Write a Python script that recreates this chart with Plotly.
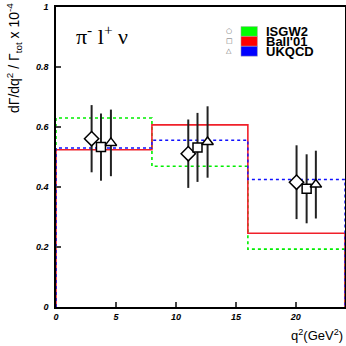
import plotly.graph_objects as go

# bin edges (q^2 in GeV^2) and model predictions per bin
bin_edges = [0, 8, 16, 24.1]
isgw2_hist = [0.630, 0.469, 0.193]
ball01_hist = [0.524, 0.607, 0.246]
ukqcd_hist = [0.530, 0.556, 0.425]

# measured points extracted with each model
isgw2_q2 = [2.97, 11.03, 20.06]
isgw2_val = [0.561, 0.511, 0.416]
isgw2_err = [0.112, 0.114, 0.123]

ball01_q2 = [3.75, 11.80, 20.90]
ball01_val = [0.533, 0.532, 0.394]
ball01_err = [0.112, 0.115, 0.115]

ukqcd_q2 = [4.58, 12.64, 21.67]
ukqcd_val = [0.547, 0.550, 0.408]
ukqcd_err = [0.111, 0.119, 0.113]

x_ticks = [0, 5, 10, 15, 20]
y_ticks = [0, 0.2, 0.4, 0.6, 0.8, 1]


def step_xy(edges, vals):
    xs = [edges[0]] + list(edges)
    ys = [0] + list(vals) + [vals[-1]]
    xs = xs + [edges[-1]]
    ys = ys + [0]
    return xs, ys


fig = go.Figure()

# model histograms
for vals, color, dash, w in [
    (isgw2_hist, "#00ee00", "dot", 1.6),
    (ball01_hist, "#f0202a", "solid", 1.6),
    (ukqcd_hist, "#1010ff", "dot", 1.4),
]:
    xs, ys = step_xy(bin_edges, vals)
    fig.add_trace(
        go.Scatter(
            x=xs, y=ys, mode="lines", line=dict(color=color, dash=dash, width=w, shape="hv"),
            showlegend=False, hoverinfo="skip",
        )
    )

# data points
for q2, val, err, sym, size in [
    (isgw2_q2, isgw2_val, isgw2_err, "diamond", 11),
    (ball01_q2, ball01_val, ball01_err, "square", 9),
    (ukqcd_q2, ukqcd_val, ukqcd_err, "triangle-up", 10),
]:
    fig.add_trace(
        go.Scatter(
            x=q2, y=val, mode="markers",
            marker=dict(symbol=sym, size=size, color="white", line=dict(color="black", width=1.5)),
            error_y=dict(type="data", array=err, color="#222222", thickness=2, width=0),
            showlegend=False,
        )
    )

tickfont = dict(family="Liberation Sans", size=9, color="black", style="italic", weight="bold")

fig.update_xaxes(
    range=[bin_edges[0], bin_edges[-1]], tickvals=x_ticks, ticks="inside", ticklen=5,
    tickwidth=1.5, showline=True, linecolor="black", linewidth=1.5, mirror=True,
    showgrid=False, zeroline=False, tickfont=tickfont, automargin=False,
)
fig.update_yaxes(
    range=[0, 1], tickvals=y_ticks, ticktext=["0", "0.2", "0.4", "0.6", "0.8", "1"],
    ticks="inside", ticklen=5, tickwidth=1.5, showline=True, linecolor="black",
    linewidth=1.5, mirror=True, showgrid=False, zeroline=False, tickfont=tickfont,
    ticklabelstandoff=4, automargin=False,
)

annotations = [
    dict(
        text="π<sup>-</sup> l<sup>+</sup> ν", x=0.063, y=0.905, xref="paper", yref="paper",
        xanchor="left", yanchor="middle", showarrow=False,
        font=dict(family="Liberation Serif", size=22, color="black"),
    ),
    dict(
        text="dΓ/dq<sup>2</sup> / Γ<sub>tot</sub> x 10<sup>-4</sup>", textangle=-90,
        x=-0.145, y=1.02, xref="paper", yref="paper", xanchor="center", yanchor="top",
        showarrow=False, font=dict(family="Liberation Sans", size=14, color="black"),
    ),
    dict(
        text="q<sup>2</sup>(GeV<sup>2</sup>)", x=1.0, y=-0.06, xref="paper", yref="paper",
        xanchor="right", yanchor="top", showarrow=False,
        font=dict(family="Liberation Sans", size=13, color="black"),
    ),
]

# legend: small symbol, coloured box, label
legend_rows = [("○", "#00ff00", "ISGW2"), ("□", "#ff0000", "Ball'01"), ("△", "#0000ff", "UKQCD")]
shapes = []
top = 0.935
row_h = 0.033
for i, (sym, color, label) in enumerate(legend_rows):
    y0 = top - (i + 1) * row_h
    y1 = top - i * row_h
    shapes.append(dict(
        type="rect", xref="paper", yref="paper", x0=0.64, x1=0.697, y0=y0, y1=y1,
        fillcolor=color, line=dict(color="#aaaaaa", width=0.5),
    ))
    annotations.append(dict(
        text=sym, x=0.599, y=(y0 + y1) / 2, xref="paper", yref="paper", showarrow=False,
        xanchor="center", yanchor="middle", font=dict(family="DejaVu Sans", size=7, color="#666666"),
    ))
    annotations.append(dict(
        text="<b>" + label + "</b>", x=0.72, y=(y0 + y1) / 2, xref="paper", yref="paper",
        showarrow=False, xanchor="left", yanchor="middle",
        font=dict(family="Liberation Sans", size=13, color="black"),
    ))

fig.update_layout(
    width=346, height=346,
    margin=dict(l=56, r=1, t=7, b=39, autoexpand=False),
    paper_bgcolor="white", plot_bgcolor="white",
    annotations=annotations, shapes=shapes,
    showlegend=False,
)

# drop the browser's default body margin so the figure sits at the page corner
fig.write_html(
    "out.html",
    config={"displayModeBar": False},
    post_script="document.body.style.margin='0';document.body.style.overflow='hidden';",
)
